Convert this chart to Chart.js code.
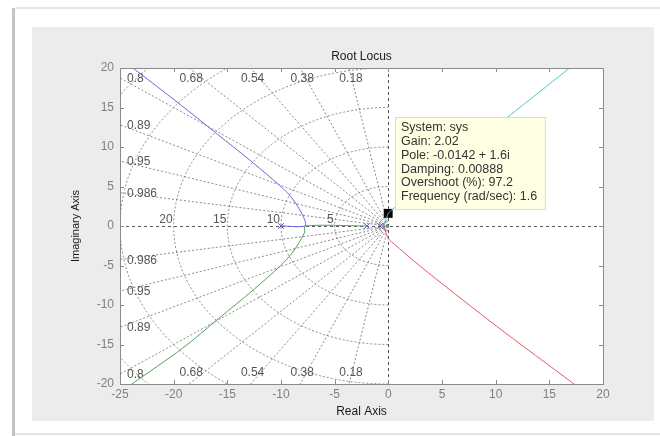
<!DOCTYPE html>
<html>
<head>
<meta charset="utf-8">
<title>Root Locus</title>
<script src="https://cdn.jsdelivr.net/npm/chart.js@4.4.0/dist/chart.umd.min.js"></script>
<style>
  html, body { margin: 0; padding: 0; background: #fff; }
  #wrap { width: 660px; height: 436px; }
</style>
</head>
<body>
<div id="wrap"><canvas id="rlocus" width="660" height="436"></canvas></div>
<script>
// Branches (real part / imaginary part)
const blueRe = [-10, -7.75, -7.8, -8.07, -8.45, -8.85, -9.4, -10.1, -12.6, -16.0, -19.5, -23.8];
const blueIm = [0, 0, 0.8, 1.6, 2.5, 3.3, 4.2, 5.1, 8.0, 11.7, 15.5, 20];
const greenRe = [-2, -7.75, -7.8, -8.1, -8.5, -8.9, -9.45, -10.1, -12.5, -15.8, -19.2, -23.9];
const greenIm = [0, 0, -0.8, -1.6, -2.5, -3.3, -4.2, -5.1, -8.0, -11.7, -15.5, -20];
const redRe = [-0.77, -0.4, -0.3, -0.15, 0, 0.6, 1.5, 2.4, 5, 10.1, 17.3];
const redIm = [0, 0, -0.6, -1.1, -1.6, -2.35, -3.4, -4.45, -7.3, -12.7, -20];
const cyanRe = [0, -0.4, -0.3, -0.15, 0, 0.6, 1.5, 2.4, 5, 10.1, 16.9];
const cyanIm = [0, 0, 0.6, 1.1, 1.6, 2.35, 3.4, 4.45, 7.3, 12.7, 20];

// open-loop poles and the data tip point
const poleRe = [-10, -2, -0.77];
const poleIm = [0, 0, 0];
const tipRe = [-0.0142];
const tipIm = [1.6];

// sgrid values and axis ticks
const dampingTicks = [0.18, 0.38, 0.54, 0.68, 0.8, 0.89, 0.95, 0.986];
const freqTicks = [5, 10, 15, 20, 25, 30];
const xTicks = [-25, -20, -15, -10, -5, 0, 5, 10, 15, 20];
const yTicks = [-20, -15, -10, -5, 0, 5, 10, 15, 20];

const tipLines = [
  "System: sys",
  "Gain: 2.02",
  "Pole: -0.0142 + 1.6i",
  "Damping: 0.00888",
  "Overshoot (%): 97.2",
  "Frequency (rad/sec): 1.6",
];

const FONT = "Arial, 'Liberation Sans', sans-serif";

function pontos(re, im) {
  return re.map((x, i) => ({ x, y: im[i] }));
}

// Background: card + gray panel + white axes
const fundoPlugin = {
  id: "fundo",
  beforeDraw(chart) {
    const { ctx, chartArea: a } = chart;
    ctx.save();
    ctx.fillStyle = "#ffffff";
    ctx.fillRect(0, 0, chart.width, chart.height);
    // card edges
    ctx.fillStyle = "#e6e6e6";
    ctx.fillRect(15, 7, chart.width - 15, 2);
    ctx.fillStyle = "#c4c4c4";
    ctx.fillRect(12, 8, 3, chart.height - 8);
    ctx.fillStyle = "#e2e2e2";
    ctx.fillRect(15, 433, chart.width - 15, 2);
    // panel
    ctx.fillStyle = "#ececec";
    ctx.fillRect(32, 27, 622, 394);
    ctx.fillStyle = "#ffffff";
    ctx.fillRect(a.left, a.top, a.right - a.left, a.bottom - a.top);
    ctx.restore();
  },
};

// sgrid: damping rays, natural frequency arcs and their labels
const sgridPlugin = {
  id: "sgrid",
  beforeDatasetsDraw(chart) {
    const { ctx, chartArea: a } = chart;
    const x = chart.scales.x;
    const y = chart.scales.y;
    const x0 = x.getPixelForValue(0);
    const y0 = y.getPixelForValue(0);
    const kx = x.getPixelForValue(1) - x0;
    const ky = y0 - y.getPixelForValue(1);

    ctx.save();
    ctx.beginPath();
    ctx.rect(a.left, a.top, a.right - a.left, a.bottom - a.top);
    ctx.clip();

    ctx.strokeStyle = "rgba(100,100,100,0.75)";
    ctx.lineWidth = 1;
    ctx.setLineDash([2, 2]);
    freqTicks.forEach((wn) => {
      ctx.beginPath();
      ctx.ellipse(x0, y0, wn * kx, wn * ky, 0, Math.PI / 2, Math.PI * 1.5);
      ctx.stroke();
    });
    dampingTicks.forEach((z) => {
      const s = Math.sqrt(1 - z * z);
      [1, -1].forEach((sg) => {
        ctx.beginPath();
        ctx.moveTo(x0, y0);
        ctx.lineTo(x.getPixelForValue(-z * 60), y.getPixelForValue(sg * s * 60));
        ctx.stroke();
      });
    });

    // zero lines
    ctx.strokeStyle = "#555";
    ctx.setLineDash([3, 3]);
    ctx.beginPath();
    ctx.moveTo(a.left, Math.round(y0) + 0.5);
    ctx.lineTo(a.right, Math.round(y0) + 0.5);
    ctx.moveTo(Math.round(x0) + 0.5, a.top);
    ctx.lineTo(Math.round(x0) + 0.5, a.bottom);
    ctx.stroke();

    // labels
    ctx.setLineDash([]);
    ctx.font = "12px " + FONT;
    ctx.fillStyle = "#555";
    ctx.textBaseline = "middle";
    dampingTicks.forEach((z) => {
      const s = Math.sqrt(1 - z * z);
      const tTop = y.max / s;
      const tLeft = -x.min / z;
      if (tTop < tLeft) {
        const px = x.getPixelForValue(-z * tTop) + 2;
        ctx.textAlign = "center";
        ctx.fillText(String(z), px, a.top + 11);
        ctx.fillText(String(z), px, a.bottom - 11);
      } else {
        const hy = s * tLeft;
        ctx.textAlign = "left";
        ctx.fillText(String(z), a.left + 7, y.getPixelForValue(hy) + 1);
        ctx.fillText(String(z), a.left + 7, y.getPixelForValue(-hy) + 1);
      }
    });
    ctx.textAlign = "right";
    freqTicks.forEach((wn) => {
      if (-wn <= x.min) return;
      ctx.fillText(String(wn), x.getPixelForValue(-wn) - 1, y0 - 6);
    });
    ctx.restore();
  },
};

// MATLAB-like box with inward ticks
const caixaPlugin = {
  id: "caixa",
  afterDatasetsDraw(chart) {
    const { ctx, chartArea: a } = chart;
    const x = chart.scales.x;
    const y = chart.scales.y;
    ctx.save();
    ctx.strokeStyle = "#8a8a8a";
    ctx.lineWidth = 1;
    ctx.beginPath();
    xTicks.forEach((v) => {
      const px = Math.round(x.getPixelForValue(v)) + 0.5;
      ctx.moveTo(px, a.bottom);
      ctx.lineTo(px, a.bottom - 4);
      ctx.moveTo(px, a.top);
      ctx.lineTo(px, a.top + 4);
    });
    yTicks.forEach((v) => {
      const py = Math.round(y.getPixelForValue(v)) + 0.5;
      ctx.moveTo(a.left, py);
      ctx.lineTo(a.left + 4, py);
      ctx.moveTo(a.right, py);
      ctx.lineTo(a.right - 4, py);
    });
    ctx.stroke();
    ctx.strokeRect(
      Math.round(a.left) + 0.5,
      Math.round(a.top) + 0.5,
      Math.round(a.right - a.left),
      Math.round(a.bottom - a.top)
    );
    ctx.restore();
  },
};

// Data tip box next to the selected pole
const dicaPlugin = {
  id: "dica",
  afterDraw(chart) {
    const { ctx } = chart;
    const mx = Math.round(chart.scales.x.getPixelForValue(tipRe[0]));
    const my = Math.round(chart.scales.y.getPixelForValue(tipIm[0]));
    const bx = mx + 7;
    const by = my - 96;
    ctx.save();
    ctx.fillStyle = "#ffffe4";
    ctx.fillRect(bx, by, 150, 92);
    ctx.strokeStyle = "#dedec4";
    ctx.strokeRect(bx + 0.5, by + 0.5, 150, 92);
    ctx.fillStyle = "#333";
    ctx.font = "12.5px " + FONT;
    ctx.textAlign = "left";
    ctx.textBaseline = "middle";
    tipLines.forEach((t, i) => {
      ctx.fillText(t, bx + 6, by + 11 + i * 13.7);
    });
    ctx.restore();
  },
};

function ramo(label, re, im, cor) {
  return {
    label,
    data: pontos(re, im),
    showLine: true,
    borderColor: cor,
    borderWidth: 1,
    pointRadius: 0,
    tension: 0.3,
  };
}

const ctx = document.getElementById("rlocus").getContext("2d");
new Chart(ctx, {
  type: "scatter",
  data: {
    datasets: [
      ramo("blue", blueRe, blueIm, "rgb(104,104,226)"),
      ramo("green", greenRe, greenIm, "rgb(86,160,86)"),
      ramo("red", redRe, redIm, "rgb(232,88,104)"),
      ramo("cyan", cyanRe, cyanIm, "rgb(80,196,204)"),
      {
        label: "poles",
        data: pontos(poleRe, poleIm),
        pointStyle: "crossRot",
        pointRadius: 4,
        borderColor: "rgb(90,90,220)",
        borderWidth: 1,
        showLine: false,
      },
      {
        label: "tip",
        data: pontos(tipRe, tipIm),
        pointStyle: "rect",
        pointRadius: 6.3,
        backgroundColor: "#000",
        borderColor: "#000",
        borderWidth: 0,
        showLine: false,
      },
    ],
  },
  options: {
    responsive: false,
    animation: false,
    devicePixelRatio: 1,
    layout: { padding: { left: 69, top: 49.1, right: 57, bottom: 17 } },
    plugins: {
      legend: { display: false },
      tooltip: { enabled: false },
      title: {
        display: true,
        text: "Root Locus",
        fullSize: false,
        color: "#1a1a1a",
        font: { family: FONT, size: 12, weight: "normal" },
        padding: { top: 0, bottom: 4.5 },
      },
    },
    scales: {
      x: {
        type: "linear",
        min: -25,
        max: 20,
        grid: { display: false, drawTicks: false },
        border: { display: false },
        ticks: {
          stepSize: 5,
          padding: 3,
          color: "#808080",
          font: { family: FONT, size: 12 },
        },
        title: {
          display: true,
          text: "Real Axis",
          color: "#1a1a1a",
          font: { family: FONT, size: 12 },
          padding: { top: 0, bottom: 0 },
        },
        afterFit: (s) => { s.height = 35; },
      },
      y: {
        type: "linear",
        min: -20,
        max: 20,
        grid: { display: false, drawTicks: false },
        border: { display: false },
        ticks: {
          stepSize: 5,
          padding: 6,
          color: "#808080",
          font: { family: FONT, size: 12 },
        },
        title: {
          display: true,
          text: "Imaginary Axis",
          color: "#1a1a1a",
          font: { family: FONT, size: 11 },
          padding: { top: 0, bottom: 0 },
        },
        afterFit: (s) => { s.width = 51; },
      },
    },
  },
  plugins: [fundoPlugin, sgridPlugin, caixaPlugin, dicaPlugin],
});
</script>
</body>
</html>
